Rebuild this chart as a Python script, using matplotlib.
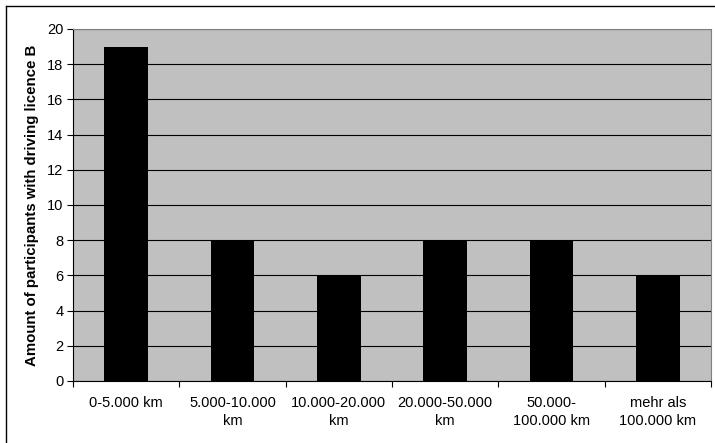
import matplotlib
matplotlib.use("Agg")
import matplotlib.pyplot as plt
from matplotlib.lines import Line2D

categories = ["0-5.000 km", "5.000-10.000\nkm", "10.000-20.000\nkm", "20.000-50.000\nkm",
              "50.000-\n100.000 km", "mehr als\n100.000 km"]
values = [19, 8, 6, 8, 8, 6]
yticks = [0, 2, 4, 6, 8, 10, 12, 14, 16, 18, 20]

plt.rcParams['font.family'] = ['Liberation Sans', 'DejaVu Sans']

W, H = 715, 443
fig = plt.figure(figsize=(W / 100, H / 100), dpi=100)
ax = fig.add_axes([73 / W, 1 - 381 / H, (711 - 73) / W, (381 - 29) / H])
ax.set_facecolor('#C0C0C0')

x = list(range(len(categories)))
ax.bar(x, values, width=0.41, color='black', zorder=3)
ax.set_xlim(-0.5, len(categories) - 0.5)
ax.set_ylim(0, 20)
ax.set_yticks(yticks)
ax.set_yticklabels([str(v) for v in yticks], fontsize=10.5)
ax.yaxis.grid(True, color='black', linewidth=0.8, zorder=1)
ax.set_axisbelow(True)

ax.set_xticks([i - 0.5 for i in range(len(categories) + 1)])
ax.set_xticklabels([])
ax.set_xticks(x, minor=True)
ax.set_xticklabels(categories, minor=True, fontsize=10.5, linespacing=1.35)
ax.tick_params(axis='x', which='minor', length=0, pad=11)
ax.tick_params(axis='x', which='major', length=4, color='black', direction='out')
ax.tick_params(axis='y', length=4, color='black', direction='out', pad=3)

for s in ['top', 'right']:
    ax.spines[s].set_color('#808080')
    ax.spines[s].set_linewidth(0.8)
for s in ['left', 'bottom']:
    ax.spines[s].set_color('black')
    ax.spines[s].set_linewidth(0.8)

ax.set_ylabel("Amount of participants with driving licence B", fontsize=10.8,
              fontweight='bold', labelpad=6)

# figure border (left and top visible)
fig.add_artist(Line2D([5.5 / W, 5.5 / W], [0, 1 - 5.5 / H], transform=fig.transFigure,
                      color='black', linewidth=1))
fig.add_artist(Line2D([5.5 / W, 1], [1 - 5.5 / H, 1 - 5.5 / H], transform=fig.transFigure,
                      color='black', linewidth=1))

fig.savefig("out.png", dpi=100)
